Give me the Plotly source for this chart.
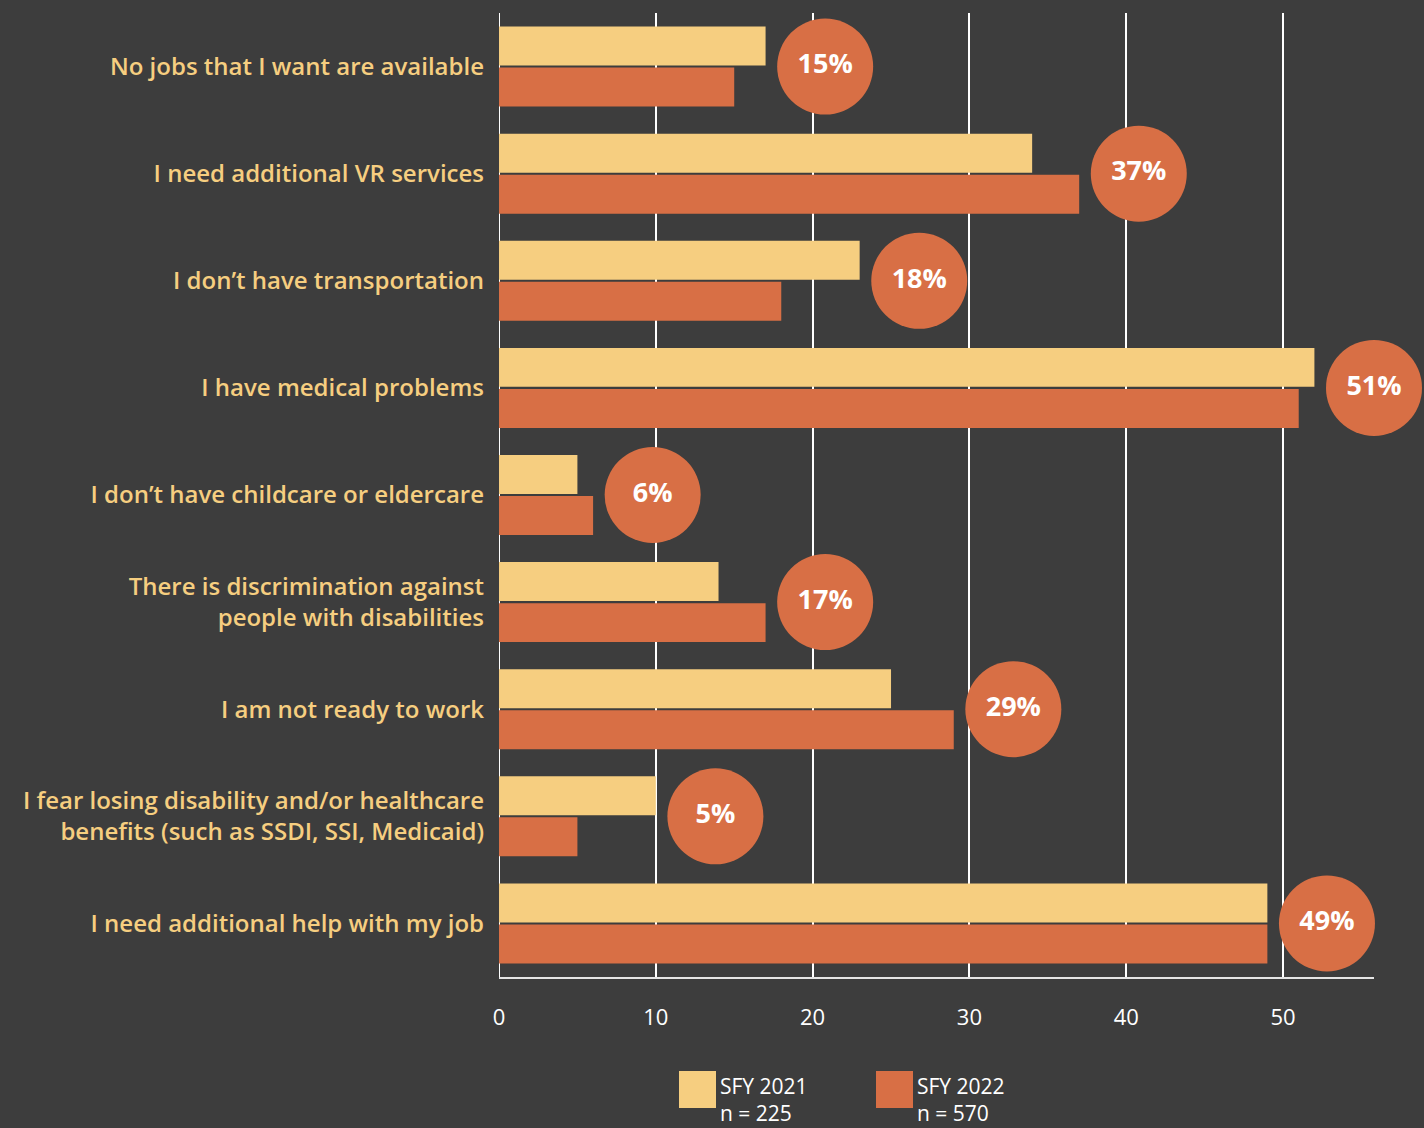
import plotly.graph_objects as go

categories = [
    "No jobs that I want are available",
    "I need additional VR services",
    "I don’t have transportation",
    "I have medical problems",
    "I don’t have childcare or eldercare",
    "There is discrimination against<br>people with disabilities",
    "I am not ready to work",
    "I fear losing disability and/or healthcare<br>benefits (such as SSDI, SSI, Medicaid)",
    "I need additional help with my job",
]
sfy2021 = [17, 34, 23, 52, 5, 14, 25, 10, 49]
sfy2022 = [15, 37, 18, 51, 6, 17, 29, 5, 49]
pct_labels = ["15%", "37%", "18%", "51%", "6%", "17%", "29%", "5%", "49%"]
x_ticks = [0, 10, 20, 30, 40, 50]

BG = "#3d3d3d"
YEL = "#F6CE80"
ORA = "#D86F45"
FONT = "Open Sans"

ML, MR, MT, MB = 499, 50, 13, 151
PW = 1424 - ML - MR
PH = 1128 - MT - MB

bubble_x = [max(a, b) + 3.8 for a, b in zip(sfy2021, sfy2022)]

fig = go.Figure()
fig.add_trace(go.Bar(y=categories, x=sfy2021, orientation="h", marker=dict(color=YEL, line=dict(width=0)), name="SFY 2021", hoverinfo="x"))
fig.add_trace(go.Bar(y=categories, x=sfy2022, orientation="h", marker=dict(color=ORA, line=dict(width=0)), name="SFY 2022", hoverinfo="x"))
fig.add_trace(go.Scatter(
    y=categories, x=bubble_x, mode="markers+text",
    marker=dict(size=96, color=ORA, line=dict(width=0), opacity=1),
    text=pct_labels, textposition="middle center",
    textfont=dict(family=FONT, size=27, color="white", weight="bold"),
    cliponaxis=False, hoverinfo="skip",
))

fig.update_layout(
    width=1424, height=1128,
    paper_bgcolor=BG, plot_bgcolor=BG,
    margin=dict(l=ML, r=MR, t=MT, b=MB),
    barmode="group", bargap=0.234, bargroupgap=0.05,
    showlegend=False,
    font=dict(family=FONT, color="white"),
    xaxis=dict(
        range=[0, 55.8], tickvals=x_ticks, showgrid=True, gridcolor="white", gridwidth=2,
        zeroline=False, showline=True, linecolor="#e6e6e6", linewidth=2,
        tickfont=dict(family=FONT, size=22, color="white"), ticks="", ticklabelstandoff=20,
        fixedrange=True,
    ),
    yaxis=dict(
        range=[8.5, -0.5], autorange=False, showgrid=False, zeroline=False, showline=False,
        tickfont=dict(family=FONT, size=24, color=YEL, weight=600), ticks="", ticklabelstandoff=14,
        fixedrange=True,
    ),
)

# vertical line at x=0
fig.add_shape(type="line", xref="x", yref="paper", x0=0, x1=0, y0=0, y1=1, line=dict(color="white", width=2), layer="below")

# custom legend
legend_items = [("SFY 2021", "n = 225", YEL, 679), ("SFY 2022", "n = 570", ORA, 876)]
for name, n, col, px in legend_items:
    x0 = (px - ML) / PW
    x1 = (px + 37 - ML) / PW
    y_top = (1128 - MB - 1071) / PH
    y_bot = (1128 - MB - 1108) / PH
    fig.add_shape(type="rect", xref="paper", yref="paper", x0=x0, x1=x1, y0=y_bot, y1=y_top,
                  fillcolor=col, line=dict(width=0))
    fig.add_annotation(xref="paper", yref="paper", x=(px + 40 - ML) / PW, y=(1128 - MB - 1071) / PH,
                       text=name + "<br>" + n, showarrow=False, xanchor="left", yanchor="top",
                       align="left", borderpad=0,
                       font=dict(family=FONT, size=21, color="white", weight=500))

fig.write_html("out.html")
